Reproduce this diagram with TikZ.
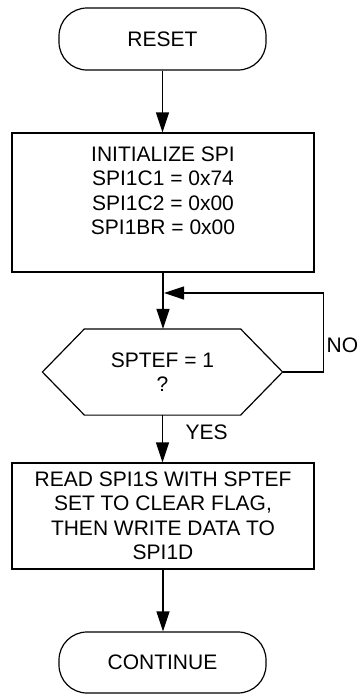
\documentclass[tikz,border=0pt]{standalone}
\usepackage{fontspec}
\setmainfont{Liberation Sans}
\usetikzlibrary{arrows.meta}
\begin{document}
\begin{tikzpicture}[x=1pt,y=-1pt, line width=1.2pt,
  every node/.style={font=\fontsize{21}{24.5}\selectfont},
  term/.style={draw, rounded corners=28pt, minimum width=207pt, minimum height=62pt, inner sep=0pt},
  procbox/.style={draw, minimum width=302pt, inner sep=0pt, align=center},
  txt/.style={align=center, inner sep=0pt},
  arr/.style={-{Triangle[length=20pt,width=13pt]}}]
\useasboundingbox (0,0) rectangle (358,694);
\node[term] (reset) at (162.5,39) {RESET};
\node[procbox, minimum height=139pt] (init) at (163,202.5) {};
\node[txt] (initlbl) at (163,191) {INITIALIZE SPI\\SPI1C1 = 0x74\\SPI1C2 = 0x00\\SPI1BR = 0x00};
\node[txt, minimum width=155pt, minimum height=85pt] (dec) at (162.5,372) {SPTEF = 1\\?};
\coordinate (decR) at ([xshift=42pt]dec.east);
\coordinate (decL) at ([xshift=-42pt]dec.west);
\draw (dec.north west) -- (dec.north east) -- (decR) -- (dec.south east) -- (dec.south west) -- (decL) -- cycle;
\node[procbox, minimum height=106pt] (read) at (163,516) {READ SPI1S WITH SPTEF\\SET TO CLEAR FLAG,\\THEN WRITE DATA TO\\SPI1D};
\node[term, minimum height=61pt] (cont) at (162.5,662.5) {CONTINUE};
\coordinate (loopin) at (164,293);
\node[anchor=west, inner sep=0pt] (yes) at (185,432) {YES};
\node[anchor=west, inner sep=0pt] (no) at (326,345) {NO};
\draw[arr] (reset.south) -- (reset.south |- init.north);
\draw[arr] (init.south) -- (init.south |- dec.north);
\draw[arr] (decR) -- ++(41,0) |- (loopin);
\draw[arr] (dec.south) -- (dec.south |- read.north);
\draw[arr] (read.south) -- (read.south |- cont.north);
\end{tikzpicture}
\end{document}
